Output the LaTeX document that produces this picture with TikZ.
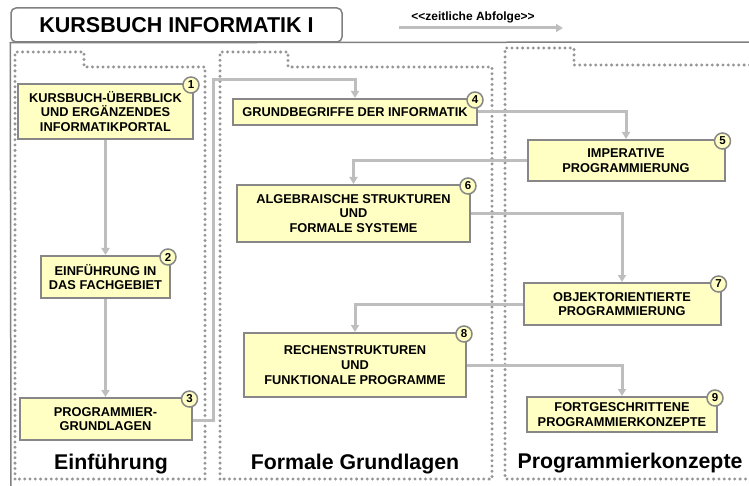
\documentclass[tikz,border=0pt]{standalone}
\usepackage{fontspec}
\setmainfont{Liberation Sans}
\usetikzlibrary{arrows.meta}
\definecolor{boxfill}{RGB}{255,255,196}
\definecolor{boxline}{RGB}{135,135,135}
\definecolor{connline}{RGB}{190,190,190}
\definecolor{dotline}{RGB}{150,150,150}
\definecolor{frameline}{RGB}{128,128,128}

\begin{document}
\begin{tikzpicture}[x=1pt,y=-1pt,>={Triangle[width=8pt,length=7pt]},
  kbox/.style={draw=boxline,line width=2pt,fill=boxfill,align=center,inner sep=0pt,
    font=\fontsize{12.8}{14.8}\selectfont\bfseries},
  badge/.style={circle,draw=boxline,line width=1.5pt,fill=boxfill,inner sep=0pt,
    minimum size=16pt,font=\fontsize{11.5}{11.5}\selectfont\bfseries},
  conn/.style={->,draw=connline,line width=3pt},
  grp/.style={draw=dotline,line width=3.3pt,line cap=round,dash pattern=on 0pt off 5.3pt},
  grplabel/.style={anchor=base,font=\fontsize{21.3}{21.3}\selectfont\bfseries}]

  \useasboundingbox (0,0) rectangle (749,486);

  % title and frame
  \node[draw=frameline,line width=1.5pt,rounded corners=5pt,minimum width=331pt,minimum height=34pt,
    font=\fontsize{21.5}{21.5}\selectfont\bfseries] (title) at (176.5,25) {KURSBUCH INFORMATIK I};
  \draw[frameline,line width=1.5pt] (11,486) -- (title.south west) -- (760,42);

  % time arrow
  \node[font=\fontsize{12}{12}\selectfont\bfseries] (order) at (473,17) {<\kern0pt<zeitliche Abfolge>\kern0pt>};
  \coordinate (t0) at (399,28);
  \coordinate (t1) at (563,28);
  \draw[conn] (t0) -- (t1);

  % draw the three groups
  \draw[grp] (15,479) -- (15,52) -- (84,52) -- (84,67) -- (205,67) -- (205,479) -- cycle;
  \draw[grp] (220,479) -- (220,52) -- (288,52) -- (288,67) -- (492,67) -- (492,479) -- cycle;
  \draw[grp] (760,65) -- (574,65) -- (574,48) -- (505,48) -- (505,479) -- (760,479);

  \node[grplabel] (g1) at (111,469) {Einführung};
  \node[grplabel] (g2) at (355,469) {Formale Grundlagen};
  \node[grplabel] (g3) at (630,468) {Programmierkonzepte};

  % course boxes
  \node[kbox,minimum width=175pt,minimum height=55pt] (b1) at (105.5,111.5)
    {KURSBUCH-ÜBERBLICK\\UND ERGÄNZENDES\\INFORMATIKPORTAL};
  \node[kbox,minimum width=129pt,minimum height=42pt] (b2) at (105.5,277)
    {EINFÜHRUNG IN\\DAS FACHGEBIET};
  \node[kbox,minimum width=172pt,minimum height=42pt] (b3) at (105.5,419)
    {PROGRAMMIER-\\GRUNDLAGEN};
  \node[kbox,minimum width=244pt,minimum height=26pt] (b4) at (355,112)
    {GRUNDBEGRIFFE DER INFORMATIK};
  \node[kbox,minimum width=197pt,minimum height=41pt] (b5) at (626,160.5)
    {IMPERATIVE\\PROGRAMMIERUNG};
  \node[kbox,minimum width=233pt,minimum height=57pt] (b6) at (353.5,213.5)
    {ALGEBRAISCHE STRUKTUREN\\UND\\FORMALE SYSTEME};
  \node[kbox,minimum width=197pt,minimum height=42pt] (b7) at (622,304)
    {OBJEKTORIENTIERTE\\PROGRAMMIERUNG};
  \node[kbox,minimum width=222pt,minimum height=64pt] (b8) at (355,365)
    {RECHENSTRUKTUREN\\UND\\FUNKTIONALE PROGRAMME};
  \node[kbox,minimum width=190pt,minimum height=35pt] (b9) at (622,414.5)
    {FORTGESCHRITTENE\\PROGRAMMIERKONZEPTE};

  % numbers
  \foreach \i in {1,...,9} {
    \node[badge] (n\i) at ([xshift=-3pt,yshift=-2pt]b\i.north east) {\i};
  }

  % connectors
  \draw[conn] (b1.south) -- (b2.north);
  \draw[conn] (b2.south) -- (b3.north);
  \coordinate (j3) at (213,80);
  \draw[conn] ([yshift=-1pt]b3.east) -| (j3) -| (b4.north);
  \draw[conn] (b4.east) -| (b5.north);
  \draw[conn] (b5.west) -| (b6.north);
  \draw[conn] (b6.east) -| (b7.north);
  \draw[conn] (b7.west) -| (b8.north);
  \draw[conn] (b8.east) -| (b9.north);

\end{tikzpicture}
\end{document}
